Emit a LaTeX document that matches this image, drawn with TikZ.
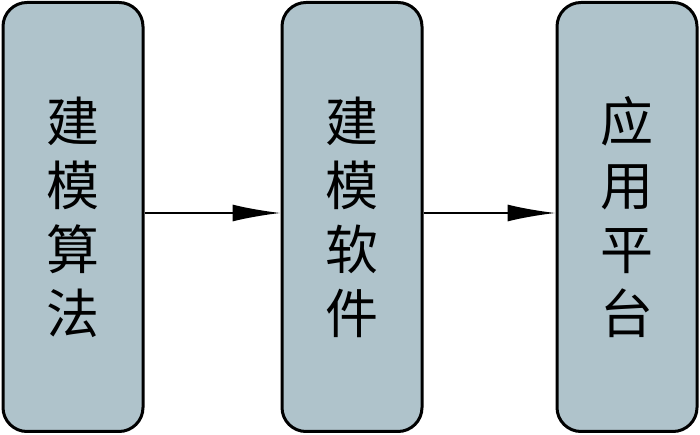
\documentclass[tikz,border=0pt]{standalone}
\usepackage{fontspec}
\newfontfamily\cjk{Noto Sans CJK SC}
\usepackage{tikz}
\usetikzlibrary{positioning,arrows.meta}
\usepackage{xcolor}
\definecolor{boxgray}{HTML}{AFC3CB}

\begin{document}
\begin{tikzpicture}[x=1pt,y=1pt,
    box/.style={draw=black, line width=3pt, fill=boxgray, rounded corners=24pt,
        minimum width=140pt, minimum height=429pt, inner sep=0pt,
        align=center, font=\cjk\fontsize{53}{64}\selectfont},
    flow/.style={-{Latex[length=48pt,width=17pt]}, line width=1.8pt}]
    \useasboundingbox (0,0) rectangle (700,435);

    % ---- Boxes ----
    \node[box] (algo) at (73,218) {建\\模\\算\\法};
    \node[box] (soft) at (352,218) {建\\模\\软\\件};
    \node[box] (plat) at (627,218) {应\\用\\平\\台};

    % Arrows
    \draw[flow] ([yshift=4pt]algo.east) -- ([yshift=4pt]soft.west);
    \draw[flow] ([yshift=4pt]soft.east) -- ([yshift=4pt]plat.west);
\end{tikzpicture}
\end{document}
